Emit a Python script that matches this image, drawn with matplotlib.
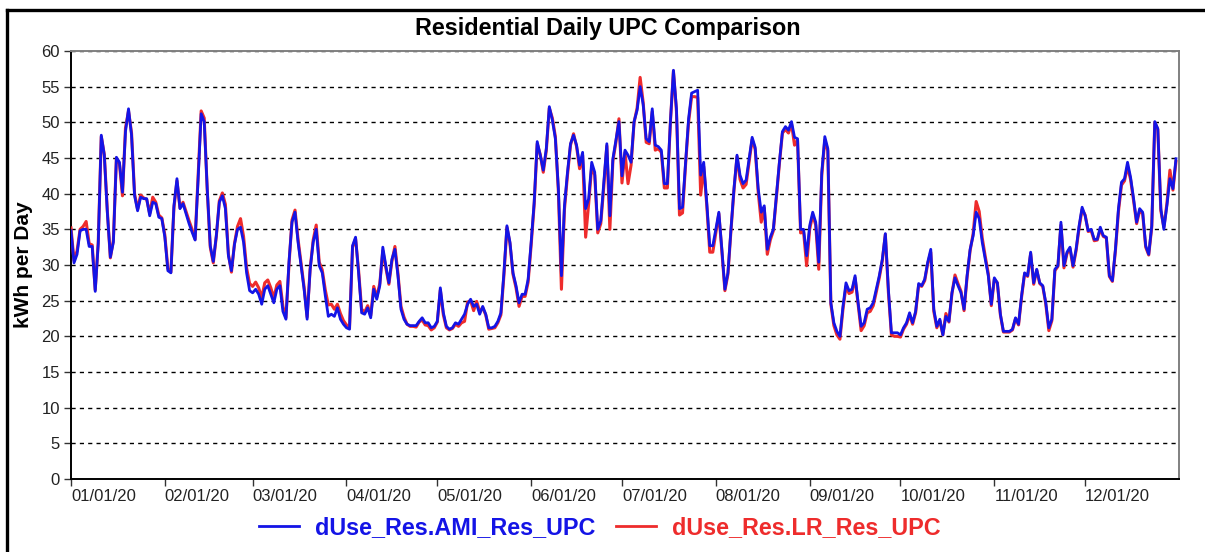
import datetime as dt

import matplotlib
matplotlib.use("Agg")
import matplotlib.pyplot as plt
import matplotlib.dates as mdates
from matplotlib.lines import Line2D

plt.rcParams['font.family'] = ['Liberation Sans', 'DejaVu Sans']

# daily residential UPC, 2020-01-01 .. 2020-12-31
ami = [
    34.8, 30.3, 31.5, 34.8, 35.0, 35.0, 32.6, 32.6, 26.3, 33.0,
    48.2, 45.4, 37.4, 31.1, 33.2, 45.1, 44.4, 40.2, 48.7, 51.9,
    48.2, 39.7, 37.6, 39.5, 39.3, 39.3, 36.9, 38.8, 38.6, 36.7,
    36.5, 33.9, 29.2, 28.9, 38.3, 42.1, 37.9, 38.6, 37.2, 35.8,
    34.6, 33.5, 42.1, 51.2, 50.1, 40.7, 32.7, 30.5, 34.1, 38.8,
    39.7, 37.9, 31.3, 29.2, 32.9, 35.0, 35.3, 33.2, 28.9, 26.4,
    26.1, 26.6, 25.9, 24.5, 26.6, 27.1, 25.9, 24.7, 26.6, 27.1,
    23.5, 22.4, 30.4, 36.0, 37.4, 33.2, 29.9, 26.6, 22.4, 29.4,
    33.2, 35.0, 29.9, 28.9, 25.7, 22.8, 23.1, 22.8, 24.0, 22.4,
    21.7, 21.2, 21.0, 32.7, 33.9, 28.9, 23.3, 23.1, 24.0, 22.6,
    26.6, 25.2, 27.1, 32.5, 29.9, 27.5, 30.8, 32.2, 28.5, 23.8,
    22.4, 21.7, 21.5, 21.5, 21.5, 22.1, 22.6, 21.9, 21.9, 21.2,
    21.4, 22.1, 26.8, 23.3, 21.4, 21.0, 21.2, 21.9, 21.7, 22.4,
    23.1, 24.5, 25.2, 24.2, 24.5, 23.1, 24.2, 23.1, 21.2, 21.2,
    21.4, 22.1, 23.3, 28.9, 35.5, 33.2, 28.9, 27.1, 24.7, 25.9,
    25.9, 28.0, 33.2, 38.8, 47.3, 45.4, 43.3, 46.3, 52.2, 50.3,
    47.7, 40.7, 28.5, 38.3, 43.0, 47.0, 48.2, 46.8, 44.0, 45.8,
    37.9, 39.3, 44.4, 43.0, 35.0, 36.2, 41.6, 47.0, 36.9, 44.9,
    47.5, 50.1, 42.5, 46.1, 45.4, 44.4, 50.1, 51.7, 55.0, 52.5,
    47.7, 47.3, 51.9, 46.8, 46.6, 46.1, 41.4, 41.4, 50.1, 57.3,
    51.9, 37.9, 38.1, 44.4, 50.5, 54.1, 54.3, 54.5, 42.6, 44.4,
    38.8, 32.7, 32.7, 35.0, 37.4, 32.2, 26.6, 28.9, 35.0, 40.7,
    45.4, 42.6, 41.4, 41.9, 44.9, 47.9, 46.5, 40.7, 37.4, 38.3,
    32.2, 33.9, 35.0, 39.7, 44.4, 48.7, 49.4, 48.9, 50.1, 47.9,
    47.7, 35.0, 35.0, 31.3, 35.5, 37.4, 36.0, 30.4, 43.0, 48.0,
    46.3, 24.7, 21.9, 20.7, 20.0, 24.2, 27.5, 26.4, 26.6, 28.5,
    24.7, 21.4, 21.9, 23.8, 24.0, 24.7, 26.6, 28.5, 30.8, 34.4,
    26.6, 20.5, 20.5, 20.5, 20.2, 21.2, 21.9, 23.3, 21.9, 23.5,
    27.4, 27.1, 28.0, 30.4, 32.2, 23.8, 21.4, 22.4, 20.2, 22.8,
    22.1, 26.1, 28.2, 27.1, 26.1, 23.8, 28.5, 32.2, 34.1, 37.4,
    36.5, 33.2, 30.8, 28.5, 24.5, 28.2, 27.5, 23.1, 20.7, 20.7,
    20.7, 21.0, 22.6, 21.7, 25.7, 28.9, 28.5, 31.8, 27.5, 29.4,
    27.5, 27.1, 24.7, 21.2, 22.4, 29.4, 29.9, 36.0, 29.9, 31.8,
    32.5, 29.9, 32.2, 35.5, 38.1, 36.9, 34.8, 35.0, 33.6, 33.6,
    35.3, 34.1, 33.9, 28.5, 27.8, 32.2, 37.9, 41.6, 42.1, 44.4,
    42.3, 39.3, 36.0, 37.9, 37.4, 32.7, 31.5, 35.5, 50.1, 49.1,
    37.9, 35.0, 38.3, 42.1, 40.7, 44.9,
]

lr = [
    35.2, 30.6, 32.0, 35.0, 35.4, 36.1, 33.0, 32.8, 26.5, 33.2,
    48.0, 45.5, 37.6, 31.0, 33.5, 45.0, 44.2, 39.7, 49.2, 51.6,
    48.5, 40.0, 37.8, 39.8, 39.4, 39.2, 37.2, 39.5, 38.8, 37.0,
    36.6, 34.2, 29.5, 29.0, 38.0, 41.8, 38.0, 38.8, 37.5, 36.2,
    35.0, 33.6, 42.5, 51.6, 50.6, 40.5, 32.5, 30.3, 34.0, 39.0,
    40.1, 38.5, 31.5, 29.0, 33.0, 35.4, 36.5, 34.0, 29.6, 27.4,
    27.0, 27.6, 26.8, 25.4, 27.5, 27.9, 26.8, 25.4, 27.2, 27.7,
    24.2, 22.6, 30.0, 36.3, 37.7, 33.6, 30.2, 26.9, 22.7, 29.5,
    33.5, 35.6, 30.4, 29.3, 26.5, 24.4, 24.5, 23.8, 24.5, 23.2,
    22.2, 21.6, 21.1, 32.5, 33.7, 29.2, 23.8, 23.4, 24.3, 22.9,
    27.0, 25.5, 27.4, 32.0, 29.6, 27.3, 30.5, 32.6, 28.8, 24.2,
    22.7, 21.7, 21.4, 21.4, 21.3, 22.0, 22.3, 21.6, 21.5, 20.9,
    21.2, 22.0, 26.5, 23.0, 21.2, 20.9, 21.1, 21.7, 21.4, 21.9,
    22.1, 24.8, 25.0, 23.6, 24.9, 23.5, 24.0, 23.0, 21.0, 21.1,
    21.2, 21.9, 23.0, 28.5, 35.3, 33.0, 28.7, 26.8, 24.2, 25.6,
    25.6, 27.6, 32.8, 38.5, 47.0, 45.5, 43.0, 46.0, 52.0, 50.6,
    48.0, 40.2, 26.6, 37.8, 42.6, 46.8, 48.4, 46.6, 43.5, 45.4,
    33.9, 38.6, 43.8, 42.6, 34.5, 35.8, 41.0, 46.7, 35.0, 44.6,
    47.2, 50.5, 41.5, 45.8, 41.4, 44.0, 50.0, 52.0, 56.3, 52.8,
    47.2, 47.0, 51.5, 46.1, 46.3, 45.8, 40.8, 40.8, 50.0, 57.2,
    51.5, 37.0, 37.3, 44.0, 50.0, 53.6, 53.6, 53.5, 39.8, 43.8,
    38.4, 31.8, 31.8, 34.5, 37.2, 31.9, 26.4, 28.7, 34.8, 40.5,
    45.2, 42.0, 40.8, 41.3, 44.5, 47.6, 46.2, 40.2, 36.0, 38.0,
    31.5, 33.5, 34.8, 39.4, 44.2, 48.5, 49.0, 48.5, 49.8, 46.8,
    47.5, 34.5, 34.6, 29.9, 35.0, 37.0, 35.6, 29.4, 42.6, 47.5,
    46.0, 24.5, 21.5, 20.2, 19.6, 23.8, 27.0, 26.0, 26.2, 28.2,
    24.5, 20.8, 21.5, 23.3, 23.5, 24.3, 26.2, 28.2, 30.6, 34.3,
    26.2, 20.2, 20.0, 20.0, 19.9, 21.0, 21.7, 23.0, 21.7, 23.3,
    27.2, 27.0, 27.8, 30.2, 31.8, 23.5, 21.2, 22.2, 20.2, 23.2,
    22.0, 26.0, 28.6, 27.4, 26.3, 23.6, 28.3, 32.0, 34.4, 38.9,
    37.5, 33.8, 31.2, 28.8, 24.3, 28.0, 27.5, 23.0, 20.6, 20.6,
    20.6, 20.9, 22.5, 21.6, 25.5, 28.8, 28.4, 31.6, 27.3, 29.3,
    27.4, 27.0, 24.5, 20.8, 22.2, 29.2, 29.8, 35.6, 29.6, 31.6,
    32.3, 29.7, 32.0, 35.2, 37.8, 37.0, 34.7, 34.8, 33.4, 33.5,
    35.0, 34.0, 33.8, 28.4, 27.7, 32.0, 37.5, 41.2, 41.8, 43.8,
    42.0, 39.0, 35.8, 37.6, 37.2, 32.5, 31.4, 35.3, 50.0, 49.0,
    37.6, 35.3, 38.6, 43.3, 40.5, 44.5,
]

start = dt.date(2020, 1, 1)
days = [start + dt.timedelta(days=i) for i in range(len(ami))]
month_ticks = [dt.date(2020, m, 1) for m in range(1, 13)]

BLUE = '#1414E6'
RED = '#EE2C2C'

fig = plt.figure(figsize=(12.05, 5.52), dpi=100)
ax = fig.add_axes([71 / 1205, 1 - 479 / 552, (1179 - 71) / 1205, (479 - 51) / 552])

ax.plot(days, lr, color=RED, lw=2.2, label='dUse_Res.LR_Res_UPC', zorder=3)
ax.plot(days, ami, color=BLUE, lw=2.0, label='dUse_Res.AMI_Res_UPC', zorder=4)

ax.set_xlim(dt.date(2020, 1, 1), dt.date(2021, 1, 1))
ax.set_ylim(0, 60)
ax.set_yticks(range(0, 61, 5))
ax.set_xticks(month_ticks)
ax.xaxis.set_major_formatter(mdates.DateFormatter('%m/%d/%y'))
for lbl in ax.get_xticklabels():
    lbl.set_horizontalalignment('left')

ax.tick_params(axis='both', direction='out', length=5, width=1, labelsize=12,
               labelcolor='#222222', color='#333333')
ax.tick_params(axis='x', pad=2)
ax.tick_params(axis='y', pad=3)

ax.yaxis.grid(True, linestyle=(0, (3, 3)), color='black', linewidth=1)
ax.set_axisbelow(True)

ax.spines['left'].set_color('black')
ax.spines['bottom'].set_color('black')
ax.spines['top'].set_color('#808080')
ax.spines['right'].set_color('#808080')
for s in ax.spines.values():
    s.set_linewidth(1.4)

ax.set_ylabel('kWh per Day', fontsize=15, fontweight='bold', labelpad=6)

fig.text(608 / 1205, 1 - 28 / 552, 'Residential Daily UPC Comparison',
         ha='center', va='center', fontsize=16.8, fontweight='bold')

# outer frame (left + top edges visible)
fig.add_artist(Line2D([7 / 1205, 7 / 1205], [0, 1 - 10 / 552], color='black', lw=2.4,
                      transform=fig.transFigure))
fig.add_artist(Line2D([7 / 1205, 1], [1 - 10 / 552, 1 - 10 / 552], color='black', lw=2.4,
                      transform=fig.transFigure))

handles = [Line2D([], [], color=BLUE, lw=2), Line2D([], [], color=RED, lw=2)]
fig.legend(handles, ['dUse_Res.AMI_Res_UPC', 'dUse_Res.LR_Res_UPC'],
           loc='center', bbox_to_anchor=(600 / 1205, 1 - 528 / 552), ncol=2,
           frameon=False, prop={'size': 16.8, 'weight': 'bold'},
           labelcolor=[BLUE, RED], handlelength=1.7, handletextpad=0.7,
           columnspacing=0.9)

fig.savefig('out.png', dpi=100)
